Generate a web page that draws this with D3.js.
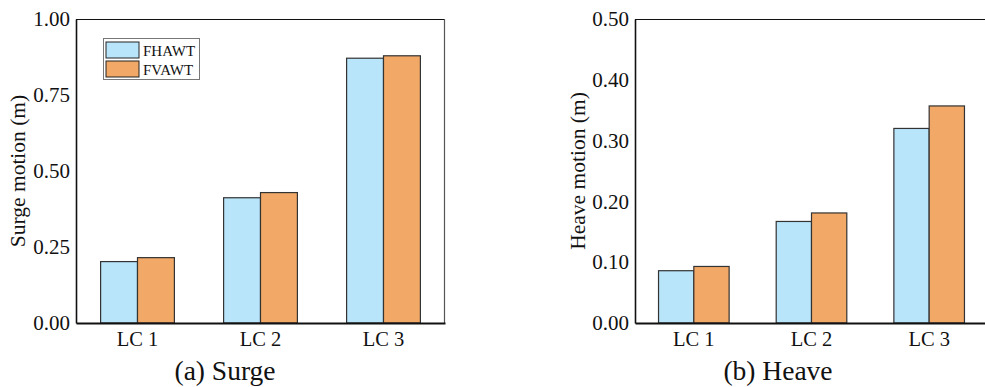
<!DOCTYPE html>
<html>
<head>
<meta charset="utf-8">
<script src="https://cdn.jsdelivr.net/npm/d3@7"></script>
<style>
  body { margin: 0; background: #fff; }
  text { font-family: "Liberation Serif", "Times New Roman", serif; fill: #111; }
</style>
</head>
<body>
<div id="chart"></div>
<script>
'use strict';

var categories = ['LC 1', 'LC 2', 'LC 3'],
    seriesNames = ['FHAWT', 'FVAWT'],
    surgeFHAWT = [0.202, 0.412, 0.871],
    surgeFVAWT = [0.215, 0.429, 0.879],
    heaveFHAWT = [0.086, 0.167, 0.320],
    heaveFVAWT = [0.093, 0.181, 0.357],
    surgeTicks = [0, 0.25, 0.5, 0.75, 1.0],
    heaveTicks = [0, 0.1, 0.2, 0.3, 0.4, 0.5];

var colors = ['#b9e5fb', '#f2a866'];

var svg = d3.select('#chart').append('svg')
  .attr('width', 985).attr('height', 387);

function drawPanel(opts) {
  var x = d3.scaleBand().domain(categories).range([opts.left, opts.right]).paddingInner(0.4).paddingOuter(0.2),
      xs = d3.scaleBand().domain(seriesNames).range([0, x.bandwidth()]),
      y = d3.scaleLinear().domain(opts.domain).range([323, 19]),
      g = svg.append('g');

  // frame (top / right thin lines)
  g.append('line').attr('x1', opts.left).attr('x2', opts.right).attr('y1', 19.5).attr('y2', 19.5)
    .attr('stroke', '#111').attr('stroke-width', 1.2);
  g.append('line').attr('x1', opts.right - 0.5).attr('x2', opts.right - 0.5).attr('y1', 19).attr('y2', 323)
    .attr('stroke', '#555').attr('stroke-width', 1.2);

  var rows = categories.map(function (c, i) {
    return {cat: c, vals: [opts.a[i], opts.b[i]]};
  });

  g.selectAll('g.grp').data(rows).enter().append('g')
    .attr('transform', function (d) { return 'translate(' + x(d.cat) + ',0)'; })
    .selectAll('rect').data(function (d) { return d.vals; }).enter().append('rect')
    .attr('x', function (d, i) { return xs(seriesNames[i]); })
    .attr('width', xs.bandwidth())
    .attr('y', function (d) { return y(d); })
    .attr('height', function (d) { return y(0) - y(d); })
    .attr('fill', function (d, i) { return colors[i]; })
    .attr('stroke', '#333').attr('stroke-width', 1.2);

  var yAxis = g.append('g').attr('transform', 'translate(' + opts.left + ',0)')
    .call(d3.axisLeft(y).tickValues(opts.ticks).tickFormat(d3.format('.2f')).tickSize(0).tickPadding(6));
  yAxis.select('.domain').attr('stroke', '#111').attr('stroke-width', 1.6);
  yAxis.selectAll('text').attr('font-size', 21).attr('font-family', '"Liberation Serif", serif').attr('fill', '#111');

  var xAxis = g.append('g').attr('transform', 'translate(0,323)')
    .call(d3.axisBottom(x).tickSize(0).tickPadding(8));
  xAxis.select('.domain').attr('stroke', '#111').attr('stroke-width', 2.2);
  xAxis.selectAll('text').attr('font-size', 20.5).attr('font-family', '"Liberation Serif", serif').attr('fill', '#111');

  g.append('text')
    .attr('transform', 'translate(' + opts.titleX + ',171) rotate(-90)')
    .attr('text-anchor', 'middle').attr('dy', '0.35em')
    .attr('font-size', 21.5).text(opts.title);

  g.append('text')
    .attr('x', opts.capX).attr('y', 380)
    .attr('text-anchor', 'middle').attr('font-size', 27.5).text(opts.caption);
}

drawPanel({left: 76, right: 445, domain: [0, 1], ticks: surgeTicks, a: surgeFHAWT, b: surgeFVAWT,
  title: 'Surge motion (m)', titleX: 17, caption: '(a) Surge', capX: 225});
drawPanel({left: 635, right: 988, domain: [0, 0.5], ticks: heaveTicks, a: heaveFHAWT, b: heaveFVAWT,
  title: 'Heave motion (m)', titleX: 577, caption: '(b) Heave', capX: 778});

// legend in the surge panel
var legend = svg.append('g');
legend.append('rect').attr('x', 103.5).attr('y', 38.5).attr('width', 96).attr('height', 41)
  .attr('fill', '#fff').attr('stroke', '#777').attr('stroke-width', 1);
seriesNames.forEach(function (s, i) {
  legend.append('rect').attr('x', 106).attr('y', 42 + i * 19).attr('width', 33).attr('height', 16)
    .attr('fill', colors[i]).attr('stroke', '#222').attr('stroke-width', 1);
  legend.append('text').attr('x', 143).attr('y', 55.5 + i * 19).attr('font-size', 15).text(s);
});
</script>
</body>
</html>
